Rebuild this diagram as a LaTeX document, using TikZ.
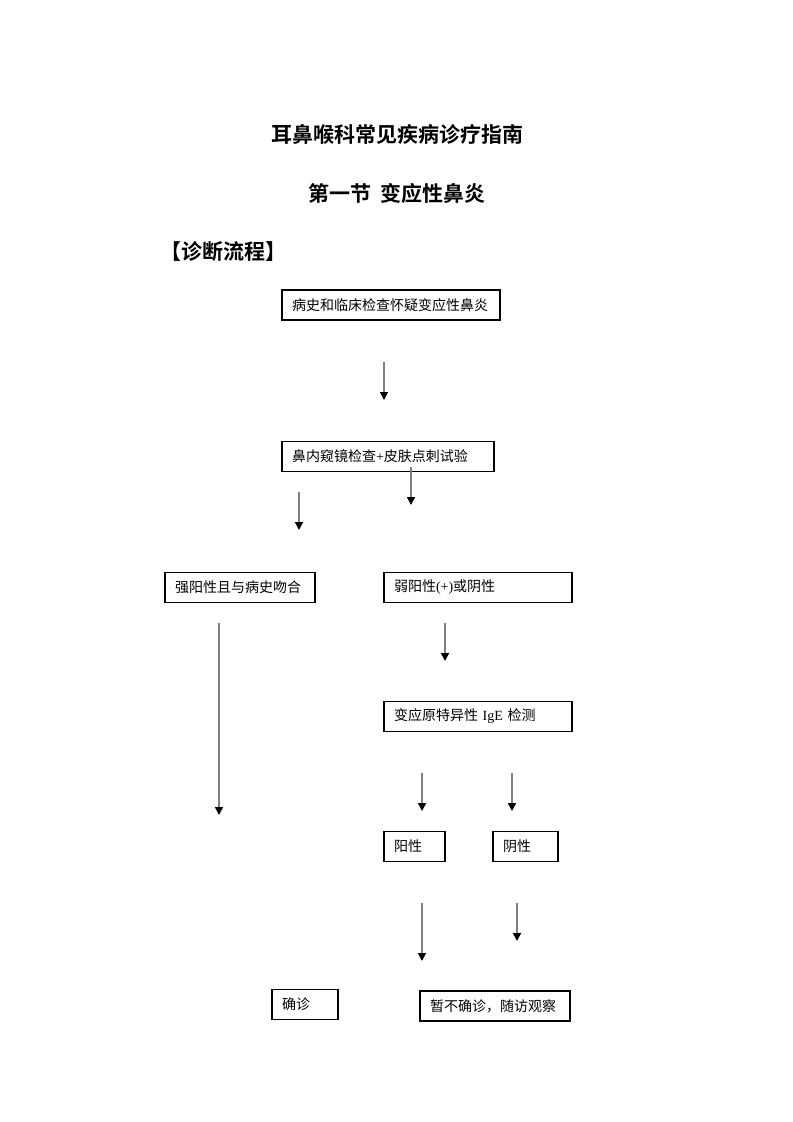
\documentclass[tikz,border=0pt]{standalone}
\usepackage{fontspec}
\setmainfont{Liberation Serif}
\newfontfamily\cjk{Noto Sans CJK SC}
\newfontfamily\cjkb{Noto Sans CJK SC Bold}
\usetikzlibrary{arrows.meta}
\tikzset{
  box/.style={draw=black, line width=0.8pt, rectangle, minimum height=22.5pt,
    inner xsep=7.5pt, inner ysep=0pt, align=left, font=\cjk\fontsize{10.5pt}{12pt}\selectfont},
  flow/.style={draw=gray, line width=1.2pt, -{Triangle[color=black, length=6pt, width=6pt]}},
  ttl/.style={font=\cjkb\fontsize{15.75pt}{18pt}\selectfont, inner sep=0pt}
}
\begin{document}
\begin{tikzpicture}[x=0.75pt, y=-0.75pt]
\useasboundingbox (0,0) rectangle (793,1122);
\node[ttl] (t1) at (397,135) {耳鼻喉科常见疾病诊疗指南};
\node[ttl] (t2) at (397,193) {第一节\ \ 变应性鼻炎};
\node[ttl, anchor=west] (t3) at (160,252) {【诊断流程】};

\node[box, text width=148.5pt] (b1) at (391,305) {病史和临床检查怀疑变应性鼻炎};
\node[box, text width=144pt] (b2) at (388,456.5) {鼻内窥镜检查{\rmfamily +}皮肤点刺试验};
\node[box, text width=97.5pt] (b3) at (240,587.5) {强阳性且与病史吻合};
\node[box, text width=126pt] (b4) at (478,587.5) {弱阳性{\rmfamily(+)}或阴性};
\node[box, text width=126pt] (b5) at (478,716.5) {变应原特异性 {\rmfamily IgE} 检测};
\node[box, text width=30.75pt] (b6) at (414.5,846.5) {阳性};
\node[box, text width=33.75pt] (b7) at (525.5,846.5) {阴性};
\node[box, text width=34.5pt] (b8) at (305,1004.5) {确诊};
\node[box, text width=97.5pt] (b9) at (495,1006) {暂不确诊，随访观察};

\coordinate (a1s) at (384,362); \coordinate (a1e) at (384,400);
\coordinate (a2s) at (299,492); \coordinate (a2e) at (299,530);
\coordinate (a3s) at (411,467); \coordinate (a3e) at (411,505);
\coordinate (a4s) at (219,623); \coordinate (a4e) at (219,815);
\coordinate (a5s) at (445,623); \coordinate (a5e) at (445,661);
\coordinate (a6s) at (422,773); \coordinate (a6e) at (422,811);
\coordinate (a7s) at (512,773); \coordinate (a7e) at (512,811);
\coordinate (a8s) at (422,903); \coordinate (a8e) at (422,961);
\coordinate (a9s) at (517,903); \coordinate (a9e) at (517,941);

\draw[flow] (a1s) -- (a1e);
\draw[flow] (a2s) -- (a2e);
\draw[flow] (a3s) -- (a3e);
\draw[flow] (a4s) -- (a4e);
\draw[flow] (a5s) -- (a5e);
\draw[flow] (a6s) -- (a6e);
\draw[flow] (a7s) -- (a7e);
\draw[flow] (a8s) -- (a8e);
\draw[flow] (a9s) -- (a9e);
\end{tikzpicture}
\end{document}
